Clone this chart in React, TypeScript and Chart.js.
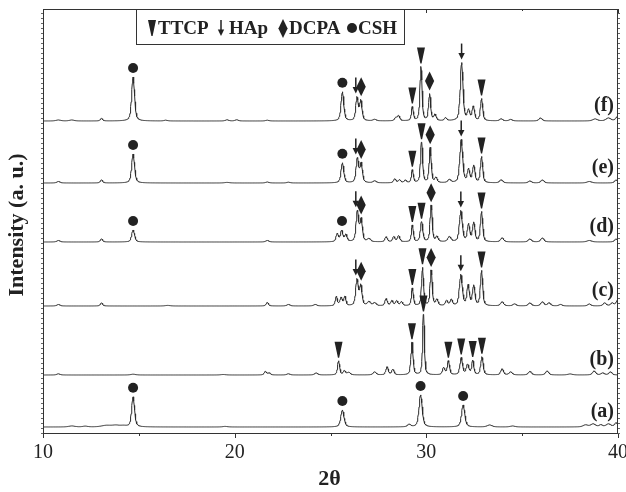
import React, { useEffect, useRef } from "react";
import { Chart, registerables } from "chart.js";
Chart.register(...registerables);

// ---- axis / labels ----
const X_MIN = 10;
const X_MAX = 40;
const X_TICKS = [10, 20, 30, 40];
const X_MINOR = [15, 25, 35];
const X_TITLE = "2θ";
const Y_TITLE = "Intensity (a. u.)";
const Y_MAX = 424;
const TRACE_LABELS = ["(a)", "(b)", "(c)", "(d)", "(e)", "(f)"];
const OFFSETS = [6, 58, 127, 191, 250, 312];
const LEGEND = ["TTCP", "HAp", "DCPA", "CSH"];

// ---- peaks: [2θ, height, fwhm] ----
const PEAKS_A = [
  [11.5, 1, 0.4], [12.2, 0.8, 0.3], [13.3, 1.5, 0.6], [13.8, 1.5, 0.5], [14.2, 1, 0.4],
  [14.7, 30, 0.18], [19.5, 0.6, 0.3], [25.62, 17, 0.2], [29.1, 2.5, 0.2], [29.7, 32, 0.2],
  [31.92, 22, 0.2], [33.3, 2, 0.3], [34.5, 1, 0.3], [38.3, 2, 0.3], [38.7, 3, 0.3],
  [39.1, 2, 0.2], [39.5, 3, 0.3], [39.9, 4, 0.2],
];
const PEAKS_B = [
  [10.8, 1.2, 0.2], [14.7, 0.8, 0.3], [19.4, 0.5, 0.3], [21.6, 3.5, 0.15], [21.8, 2, 0.15],
  [22.8, 1.2, 0.2], [24.25, 2, 0.2], [25.42, 14, 0.13], [25.72, 4, 0.15], [25.95, 2.5, 0.2],
  [27.3, 3, 0.2], [27.95, 8, 0.15], [28.25, 5.5, 0.15], [29.25, 33, 0.13], [29.85, 62, 0.11],
  [30.9, 7, 0.15], [31.15, 14, 0.14], [31.82, 17, 0.16], [32.15, 10, 0.17], [32.42, 14, 0.13],
  [32.9, 18, 0.15], [33.95, 6, 0.17], [34.4, 3, 0.2], [35.4, 3.5, 0.2], [36.3, 4, 0.2],
  [37.5, 1, 0.3], [38.75, 4, 0.2], [39.2, 2, 0.2], [39.6, 3, 0.2],
];
const PEAKS_C = [
  [10.8, 1.5, 0.2], [13.05, 3, 0.15], [16.5, 0.6, 0.3], [21.7, 3.5, 0.15], [22.8, 1.5, 0.2],
  [24.2, 1.5, 0.2], [25.3, 9, 0.13], [25.55, 8, 0.15], [25.75, 9, 0.13], [26.38, 26, 0.16],
  [26.58, 20, 0.15], [27.0, 4, 0.2], [27.3, 3, 0.2], [27.9, 7, 0.15], [28.2, 5, 0.15],
  [28.45, 5, 0.15], [28.7, 4, 0.15], [29.27, 18, 0.12], [29.8, 38, 0.12], [30.25, 36, 0.13],
  [30.55, 6, 0.15], [31.05, 5, 0.15], [31.3, 6, 0.15], [31.8, 31, 0.18], [32.18, 20, 0.15],
  [32.47, 20, 0.15], [32.88, 35, 0.14], [33.95, 4, 0.2], [34.6, 2, 0.2], [35.4, 3, 0.2],
  [36.05, 4, 0.2], [36.4, 3, 0.2], [37.0, 1.5, 0.2], [38.5, 2, 0.2], [39.3, 3, 0.2],
  [39.7, 3, 0.2], [39.95, 5, 0.15],
];
const PEAKS_D = [
  [10.8, 1.5, 0.2], [13.05, 3, 0.15], [14.7, 12, 0.18], [21.7, 1.5, 0.2], [25.35, 8, 0.15],
  [25.58, 11, 0.15], [25.8, 7, 0.15], [26.4, 30, 0.16], [26.6, 22, 0.15], [27.0, 3, 0.2],
  [27.9, 5, 0.15], [28.3, 5, 0.15], [28.55, 6, 0.15], [29.27, 17, 0.12], [29.75, 20, 0.15],
  [30.25, 37, 0.13], [30.55, 5, 0.15], [31.2, 5, 0.2], [31.8, 31, 0.18], [32.2, 17, 0.15],
  [32.47, 19, 0.15], [32.88, 30, 0.14], [33.95, 4, 0.2], [35.4, 3, 0.2], [36.05, 4, 0.2],
  [38.5, 1.5, 0.3], [39.9, 3, 0.2],
];
const PEAKS_E = [
  [10.8, 1.5, 0.2], [13.05, 3, 0.15], [14.7, 29, 0.18], [19.6, 0.6, 0.3], [21.7, 1, 0.2],
  [22.8, 0.8, 0.2], [25.62, 20, 0.17], [26.4, 24, 0.16], [26.6, 19, 0.15], [27.3, 2, 0.2],
  [28.35, 4, 0.15], [28.6, 3, 0.15], [28.9, 2.5, 0.15], [29.27, 13, 0.12], [29.75, 41, 0.13],
  [30.2, 35, 0.13], [30.5, 5, 0.15], [31.2, 3, 0.2], [31.82, 43, 0.18], [32.2, 13, 0.15],
  [32.47, 17, 0.15], [32.88, 26, 0.14], [33.9, 3, 0.2], [35.4, 2, 0.2], [36.05, 3, 0.2],
  [38.5, 1.5, 0.3], [39.9, 3, 0.2],
];
const PEAKS_F = [
  [10.8, 1, 0.3], [11.5, 1, 0.3], [13.05, 2.5, 0.15], [14.7, 44, 0.18], [16.4, 0.8, 0.2],
  [19.6, 1.2, 0.2], [20.1, 1.2, 0.2], [21.7, 0.8, 0.2], [25.62, 29, 0.17], [26.38, 23, 0.15],
  [26.58, 20, 0.15], [27.3, 1.5, 0.2], [28.4, 3, 0.15], [28.55, 5, 0.15], [29.27, 14, 0.12],
  [29.72, 54, 0.13], [30.17, 27, 0.13], [30.45, 6, 0.15], [31.0, 3, 0.15], [31.84, 58, 0.17],
  [32.2, 10, 0.15], [32.45, 14, 0.15], [32.88, 22, 0.14], [33.9, 2, 0.2], [34.4, 1.5, 0.2],
  [35.95, 3, 0.2], [38.8, 2, 0.3], [39.5, 3, 0.3], [39.95, 4, 0.2],
];

// ---- phase markers: [2θ, phase] ----
const MARKERS_A = [[14.7, "CSH"], [25.62, "CSH"], [29.7, "CSH"], [31.92, "CSH"]];
const MARKERS_B = [[25.42, "TTCP"], [29.25, "TTCP"], [29.85, "TTCP"], [31.15, "TTCP"], [31.82, "TTCP"], [32.42, "TTCP"], [32.9, "TTCP"]];
const MARKERS_C = [[26.32, "HAp"], [26.6, "DCPA"], [29.27, "TTCP"], [29.8, "TTCP"], [30.25, "DCPA"], [31.8, "HAp"], [32.88, "TTCP"]];
const MARKERS_D = [[14.7, "CSH"], [25.6, "CSH"], [26.32, "HAp"], [26.6, "DCPA"], [29.27, "TTCP"], [29.75, "TTCP"], [30.25, "DCPA"], [31.8, "HAp"], [32.88, "TTCP"]];
const MARKERS_E = [[14.7, "CSH"], [25.62, "CSH"], [26.32, "HAp"], [26.6, "DCPA"], [29.27, "TTCP"], [29.75, "TTCP"], [30.2, "DCPA"], [31.82, "HAp"], [32.88, "TTCP"]];
const MARKERS_F = [[14.7, "CSH"], [25.62, "CSH"], [26.32, "HAp"], [26.6, "DCPA"], [29.27, "TTCP"], [29.72, "TTCP"], [30.17, "DCPA"], [31.84, "HAp"], [32.88, "TTCP"]];

const PEAKS = [PEAKS_A, PEAKS_B, PEAKS_C, PEAKS_D, PEAKS_E, PEAKS_F];
const MARKERS = [MARKERS_A, MARKERS_B, MARKERS_C, MARKERS_D, MARKERS_E, MARKERS_F];

const STEP = 0.02;
const INK = "#222";
const FONT = "'Liberation Serif', 'Times New Roman', serif";

function profile(t: number, peaks: number[][]) {
  let s = 0;
  for (const [c, h, w] of peaks) {
    const d = (t - c) / w;
    const L = 1 / (1 + 4 * d * d);
    const G = Math.exp(-4 * Math.LN2 * d * d);
    s += h * (0.5 * L + 0.5 * G);
  }
  return s;
}

function buildData(i: number) {
  const pts: { x: number; y: number }[] = [];
  const n = Math.round((X_MAX - X_MIN) / STEP);
  for (let k = 0; k <= n; k++) {
    const t = X_MIN + k * STEP;
    pts.push({ x: t, y: OFFSETS[i] + profile(t, PEAKS[i]) });
  }
  return pts;
}

function drawSymbol(ctx: CanvasRenderingContext2D, kind: string, x: number, yb: number) {
  ctx.save();
  ctx.fillStyle = INK;
  ctx.strokeStyle = INK;
  ctx.beginPath();
  if (kind === "TTCP") {
    ctx.moveTo(x - 4, yb - 16);
    ctx.lineTo(x + 4, yb - 16);
    ctx.lineTo(x + 0.6, yb);
    ctx.lineTo(x - 0.6, yb);
    ctx.closePath();
    ctx.fill();
  } else if (kind === "HAp") {
    ctx.lineWidth = 1.5;
    ctx.moveTo(x, yb - 16);
    ctx.lineTo(x, yb - 5);
    ctx.stroke();
    ctx.beginPath();
    ctx.moveTo(x - 3.2, yb - 6.5);
    ctx.lineTo(x + 3.2, yb - 6.5);
    ctx.lineTo(x, yb);
    ctx.closePath();
    ctx.fill();
  } else if (kind === "DCPA") {
    ctx.moveTo(x, yb - 19);
    ctx.lineTo(x + 4.6, yb - 9.5);
    ctx.lineTo(x, yb);
    ctx.lineTo(x - 4.6, yb - 9.5);
    ctx.closePath();
    ctx.fill();
  } else {
    ctx.arc(x, yb - 5, 5, 0, Math.PI * 2);
    ctx.fill();
  }
  ctx.restore();
}

const decorPlugin = {
  id: "xrdDecor",
  afterDatasetsDraw(chart: any) {
    const { ctx, chartArea: a, scales } = chart;
    const xs = scales.x;
    const ys = scales.y;
    ctx.save();
    // frame
    ctx.strokeStyle = "#333";
    ctx.lineWidth = 1;
    ctx.strokeRect(a.left + 0.5, a.top + 0.5, a.right - a.left - 1, a.bottom - a.top);
    // x ticks
    ctx.beginPath();
    for (const v of X_TICKS) {
      const px = Math.round(xs.getPixelForValue(v)) + 0.5;
      ctx.moveTo(px, a.bottom);
      ctx.lineTo(px, a.bottom + 5);
      ctx.moveTo(px, a.top);
      ctx.lineTo(px, a.top + 4);
    }
    for (const v of X_MINOR) {
      const px = Math.round(xs.getPixelForValue(v)) + 0.5;
      ctx.moveTo(px, a.bottom);
      ctx.lineTo(px, a.bottom + 3);
      ctx.moveTo(px, a.top);
      ctx.lineTo(px, a.top + 2);
    }
    ctx.stroke();
    // y minor ticks (dotted look)
    ctx.strokeStyle = "#666";
    ctx.beginPath();
    for (let v = 0; v <= Y_MAX; v += 5) {
      const py = Math.round(ys.getPixelForValue(v)) + 0.5;
      ctx.moveTo(a.left - 2, py);
      ctx.lineTo(a.left, py);
      ctx.moveTo(a.right, py);
      ctx.lineTo(a.right + 2, py);
    }
    ctx.stroke();
    // tick labels
    ctx.fillStyle = INK;
    ctx.font = `20px ${FONT}`;
    ctx.textAlign = "center";
    ctx.textBaseline = "middle";
    for (const v of X_TICKS) {
      ctx.fillText(String(v), xs.getPixelForValue(v), a.bottom + 20);
    }
    // axis titles
    ctx.font = `bold 22px ${FONT}`;
    ctx.fillText(X_TITLE, xs.getPixelForValue(X_MIN + (X_MAX - X_MIN) * 0.5) - 1, a.bottom + 46);
    ctx.save();
    ctx.translate(17, (a.top + a.bottom) / 2 + 4);
    ctx.rotate(-Math.PI / 2);
    ctx.fillText(Y_TITLE, 0, 0);
    ctx.restore();

    // markers
    chart.data.datasets.forEach((ds: any, i: number) => {
      for (const [t, kind] of MARKERS[i] as [number, string][]) {
        let top = -Infinity;
        for (const p of ds.data) {
          if (Math.abs(p.x - t) <= 0.08 && p.y > top) top = p.y;
        }
        const px = xs.getPixelForValue(t);
        const py = ys.getPixelForValue(top);
        drawSymbol(ctx, kind, px, py - (kind === "CSH" ? 4 : 3));
      }
      // trace label
      const last = ds.data[ds.data.length - 1];
      ctx.font = `bold 20px ${FONT}`;
      ctx.textAlign = "right";
      ctx.textBaseline = "middle";
      ctx.fillStyle = INK;
      ctx.fillText(TRACE_LABELS[i], a.right - 4, ys.getPixelForValue(OFFSETS[i]) - 15);
    });

    // legend box
    ctx.fillStyle = "#fff";
    ctx.fillRect(136.5, a.top + 0.5, 268, 35);
    ctx.strokeStyle = "#333";
    ctx.strokeRect(136.5, a.top + 0.5, 268, 35);
    const symX = [152, 221, 283, 352];
    const txtX = [158, 229, 289, 358];
    const cy = a.top + 19;
    ctx.font = `bold 19px ${FONT}`;
    ctx.textAlign = "left";
    ctx.textBaseline = "middle";
    LEGEND.forEach((name, k) => {
      const yb = name === "CSH" ? cy + 5 : name === "DCPA" ? cy + 10 : cy + 8;
      drawSymbol(ctx, name, symX[k], yb);
      ctx.fillStyle = INK;
      ctx.fillText(name, txtX[k], cy + 1);
    });
    ctx.restore();
  },
};

export default function App() {
  const ref = useRef<HTMLCanvasElement | null>(null);
  useEffect(() => {
    if (!ref.current) return;
    const chart = new Chart(ref.current, {
      type: "line",
      data: {
        datasets: TRACE_LABELS.map((lab, i) => ({
          label: lab,
          data: buildData(i),
          borderColor: "#2a2a2a",
          borderWidth: 1,
          pointRadius: 0,
          tension: 0,
          fill: false,
        })),
      },
      options: {
        responsive: false,
        animation: false,
        parsing: false,
        normalized: true,
        layout: { padding: { left: 43, top: 9, right: 8, bottom: 59 } },
        scales: {
          x: { type: "linear", min: X_MIN, max: X_MAX, display: false },
          y: { type: "linear", min: 0, max: Y_MAX, display: false },
        },
        plugins: { legend: { display: false }, tooltip: { enabled: false } },
      },
      plugins: [decorPlugin],
    } as any);
    return () => chart.destroy();
  }, []);
  return (
    <div style={{ position: "fixed", left: 0, top: 0, width: 626, height: 492, background: "#fff" }}>
      <canvas ref={ref} width={626} height={492} />
    </div>
  );
}
